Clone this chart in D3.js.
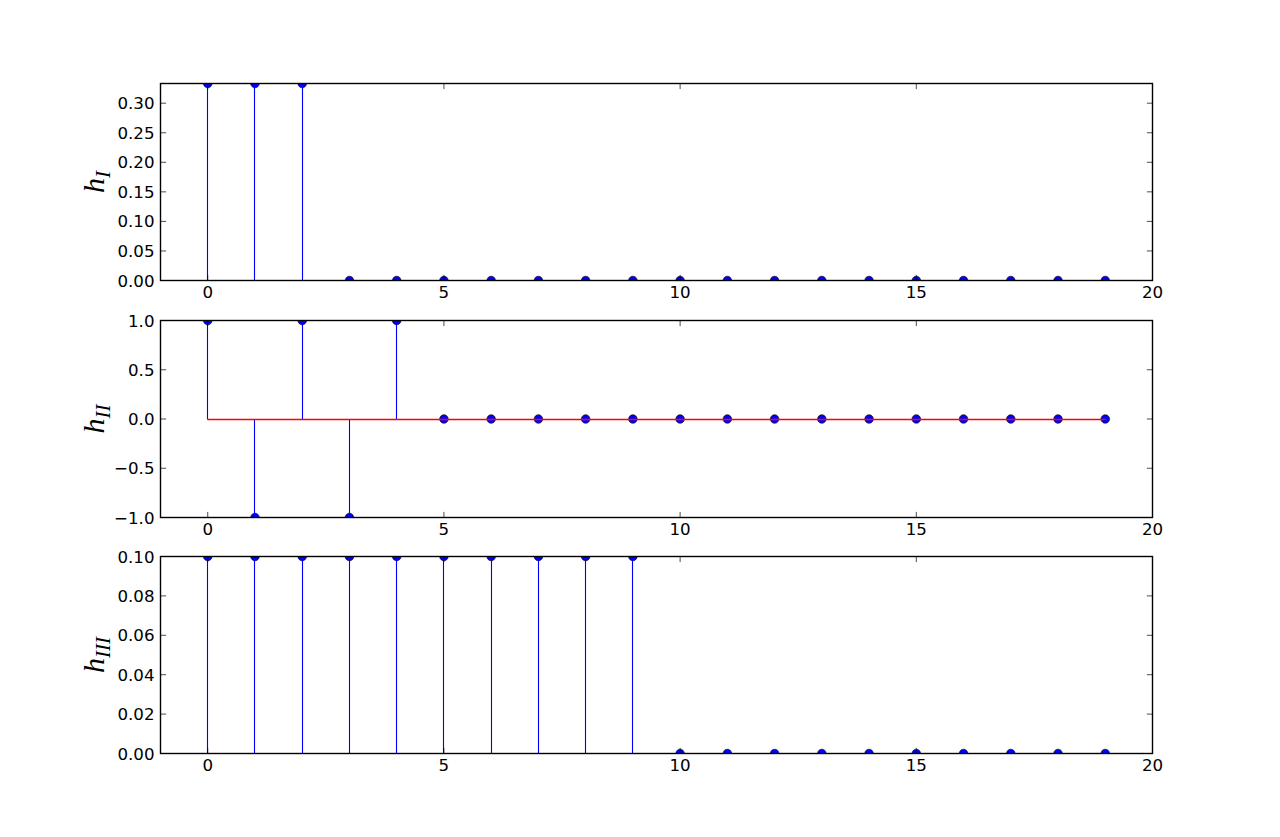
<!DOCTYPE html>
<html>
<head>
<meta charset="utf-8">
<script src="https://cdn.jsdelivr.net/npm/d3@7"></script>
<style>
  body { margin: 0; background: #fff; }
  text { font-family: "DejaVu Sans", sans-serif; fill: #000; }
</style>
</head>
<body>
<svg id="parent-svg"></svg>
<script>
// sample index n = 0..19
const n = d3.range(20);

// impulse responses
const hI = [1 / 3, 1 / 3, 1 / 3, 0, 0, 0, 0, 0, 0, 0, 0, 0, 0, 0, 0, 0, 0, 0, 0, 0];
const hII = [1, -1, 1, -1, 1, 0, 0, 0, 0, 0, 0, 0, 0, 0, 0, 0, 0, 0, 0, 0];
const hIII = [0.1, 0.1, 0.1, 0.1, 0.1, 0.1, 0.1, 0.1, 0.1, 0.1, 0, 0, 0, 0, 0, 0, 0, 0, 0, 0];

const xDomain = [-1, 20];
const xTicks = [0, 5, 10, 15, 20];

const panels = [
  { values: hI, sub: "I", domain: [0, 1 / 3], ticks: [0, 0.05, 0.1, 0.15, 0.2, 0.25, 0.3], fmt: ".2f" },
  { values: hII, sub: "II", domain: [-1, 1], ticks: [-1, -0.5, 0, 0.5, 1], fmt: ".1f" },
  { values: hIII, sub: "III", domain: [0, 0.1], ticks: [0, 0.02, 0.04, 0.06, 0.08, 0.1], fmt: ".2f" },
];

const width = 1280, height = 837;
// half-pixel offsets keep the 1px frame crisp
const left = 160.5, right = 1152.5;
const tops = [83.5, 320.5, 556.5];
const panelHeight = 197;
const tickLen = 5.6;

// snap a 1px line onto a pixel centre
const snap = (v) => Math.floor(v) + 0.5;

const svg = d3.select("#parent-svg")
  .attr("width", width)
  .attr("height", height)
  .attr("viewBox", `0 0 ${width} ${height}`);

const x = d3.scaleLinear().domain(xDomain).range([left, right]);

function addClip(id, x0, y0, w, h) {
  svg.append("clipPath").attr("id", id)
    .append("rect")
    .attr("x", x0).attr("y", y0)
    .attr("width", w).attr("height", h);
  return `url(#${id})`;
}

function drawPanel(panel, i) {
  const top = tops[i];
  const bottom = top + panelHeight;
  const y = d3.scaleLinear().domain(panel.domain).range([bottom, top]);
  const g = svg.append("g");

  // clip so markers at the edges are cut like in the original
  const plot = g.append("g")
    .attr("clip-path", addClip(`clip-${i}`, left, top, right - left, panelHeight));

  // markers first, then stems, then the baseline on top
  plot.selectAll("circle")
    .data(n)
    .join("circle")
    .attr("cx", (d) => x(d))
    .attr("cy", (d) => y(panel.values[d]))
    .attr("r", 4.3)
    .style("fill", "#0000ff")
    .style("stroke", "#000")
    .style("stroke-width", 0.6);

  plot.selectAll("line.stem")
    .data(n)
    .join("line")
    .attr("class", "stem")
    .attr("x1", (d) => snap(x(d)))
    .attr("x2", (d) => snap(x(d)))
    .attr("y1", snap(y(0)))
    .attr("y2", (d) => y(panel.values[d]))
    .style("stroke", "#0000ff")
    .style("stroke-width", 1.1);

  // baseline sits under the spine when zero is the bottom edge
  g.append("g")
    .attr("clip-path", addClip(`clip-base-${i}`, left, top + 2, right - left, panelHeight - 4))
    .append("line")
    .attr("x1", snap(x(d3.min(n))))
    .attr("x2", snap(x(d3.max(n))))
    .attr("y1", snap(y(0)))
    .attr("y2", snap(y(0)))
    .style("stroke", "#ff0000")
    .style("stroke-width", 1.4);

  // inward ticks on all four sides
  const tickStyle = (sel) => sel.style("stroke", "#000").style("stroke-width", 0.7);
  xTicks.forEach((t) => {
    g.append("line").attr("x1", x(t)).attr("x2", x(t))
      .attr("y1", bottom).attr("y2", bottom - tickLen).call(tickStyle);
    g.append("line").attr("x1", x(t)).attr("x2", x(t))
      .attr("y1", top).attr("y2", top + tickLen).call(tickStyle);
    g.append("text")
      .attr("x", x(t))
      .attr("y", bottom + 17)
      .attr("text-anchor", "middle")
      .style("font-size", "16.67px")
      .text(t);
  });

  const fmt = d3.format(panel.fmt);
  panel.ticks.forEach((t) => {
    g.append("line").attr("x1", left).attr("x2", left + tickLen)
      .attr("y1", y(t)).attr("y2", y(t)).call(tickStyle);
    g.append("line").attr("x1", right).attr("x2", right - tickLen)
      .attr("y1", y(t)).attr("y2", y(t)).call(tickStyle);
    g.append("text")
      .attr("x", left - 6)
      .attr("y", y(t))
      .attr("dy", "0.36em")
      .attr("text-anchor", "end")
      .style("font-size", "16.67px")
      .text(fmt(t).replace("-", "\u2212"));
  });

  // frame
  g.append("rect")
    .attr("x", left).attr("y", top)
    .attr("width", right - left).attr("height", panelHeight)
    .style("fill", "none")
    .style("stroke", "#000")
    .style("stroke-width", 1.4);

  // y label h_I, h_II, h_III
  const label = g.append("text")
    .attr("transform", `translate(104, ${(top + bottom) / 2}) rotate(-90)`)
    .attr("text-anchor", "middle")
    .style("font-family", "'Liberation Serif', serif")
    .style("font-style", "italic");
  label.append("tspan").style("font-size", "30px").text("h");
  label.append("tspan")
    .style("font-size", "21px")
    .attr("dy", 6)
    .text(panel.sub);
}

panels.forEach(drawPanel);
</script>
</body>
</html>
